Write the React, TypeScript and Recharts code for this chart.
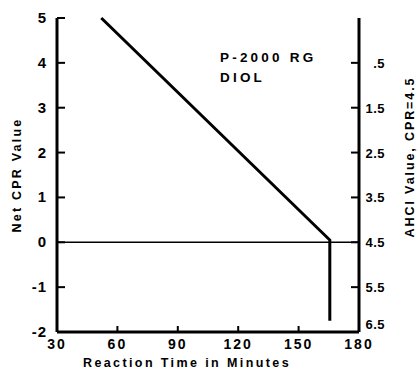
import React from 'react';
import {
  ComposedChart,
  Line,
  XAxis,
  YAxis,
  ReferenceLine,
} from 'recharts';

// reaction time (min) vs net CPR value
const times = [52, 165.5, 165.5];
const netCpr = [5, 0.05, -1.75];
// right-hand scale: AHCl value when CPR = 4.5
const ahclAtZero = 4.5;

const xTicks = [30, 60, 90, 120, 150, 180];
const leftTicks = [-2, -1, 0, 1, 2, 3, 4, 5];
const rightTicks = [0.5, 1.5, 2.5, 3.5, 4.5, 5.5, 6.5];
const rightTickLabels = ['.5', '1.5', '2.5', '3.5', '4.5', '5.5', '6.5'];

const data = times.map((t, i) => ({
  time: t,
  cpr: netCpr[i],
  ahcl: ahclAtZero - netCpr[i],
}));

const FONT = '"Liberation Sans", Arial, sans-serif';

const LeftTick = (props: any) => {
  const { x, y, payload } = props;
  const v = payload.value;
  const inner = v !== -2;
  return (
    <g>
      {inner && <rect x={x} y={y - 1} width={8} height={2} fill="#000" />}
      <text
        x={x - 10}
        y={y + 5}
        textAnchor="end"
        fontFamily={FONT}
        fontWeight="bold"
        fontSize={15}
        letterSpacing={1}
        fill="#000"
      >
        {v}
      </text>
    </g>
  );
};

const RightTick = (props: any) => {
  const { x, y, payload } = props;
  const i = rightTicks.indexOf(payload.value);
  const last = payload.value === 6.5;
  return (
    <g>
      {!last && <rect x={x - 8} y={y - 1} width={8} height={2} fill="#000" />}
      <text
        x={x + 26}
        y={last ? y - 3 : y + 5}
        textAnchor="end"
        fontFamily={FONT}
        fontWeight="bold"
        fontSize={13}
        letterSpacing={0.5}
        fill="#000"
      >
        {rightTickLabels[i]}
      </text>
    </g>
  );
};

const BottomTick = (props: any) => {
  const { x, y, payload } = props;
  const v = payload.value;
  const inner = v !== 30 && v !== 180;
  return (
    <g>
      {inner && <rect x={x - 1} y={y - 6} width={2} height={6} fill="#000" />}
      <text
        x={x}
        y={y + 17}
        textAnchor="middle"
        fontFamily={FONT}
        fontWeight="bold"
        fontSize={14}
        letterSpacing={2}
        fill="#000"
      >
        {v}
      </text>
    </g>
  );
};

const App = () => {
  return (
    <div style={{ position: 'absolute', left: 0, top: 0, background: '#fff' }}>
      <ComposedChart
        width={420}
        height={373}
        data={data}
        margin={{ top: 18, right: 0, bottom: 0, left: 0 }}
      >
        <XAxis
          dataKey="time"
          type="number"
          domain={[30, 180]}
          ticks={xTicks}
          height={41}
          tickSize={0}
          tickMargin={0}
          tickLine={false}
          tick={<BottomTick />}
          axisLine={{ stroke: '#000', strokeWidth: 3 }}
          label={{
            content: () => (
              <text
                x={187}
                y={367}
                textAnchor="middle"
                fontFamily={FONT}
                fontWeight="bold"
                fontSize={12.5}
                letterSpacing={2.4}
                fill="#000"
              >
                Reaction Time in Minutes
              </text>
            ),
          }}
        />
        <YAxis
          yAxisId="l"
          type="number"
          domain={[-2, 5]}
          ticks={leftTicks}
          width={57}
          tickSize={0}
          tickMargin={0}
          tickLine={false}
          tick={<LeftTick />}
          axisLine={{ stroke: '#000', strokeWidth: 3 }}
          label={{
            content: () => (
              <text
                x={21}
                y={175}
                transform="rotate(-90 21 175)"
                textAnchor="middle"
                fontFamily={FONT}
                fontWeight="bold"
                fontSize={12.5}
                letterSpacing={2.2}
                fill="#000"
              >
                Net CPR Value
              </text>
            ),
          }}
        />
        <YAxis
          yAxisId="r"
          orientation="right"
          type="number"
          domain={[-0.5, 6.5]}
          allowDataOverflow
          reversed
          ticks={rightTicks}
          width={61}
          tickSize={0}
          tickMargin={0}
          tickLine={false}
          interval={0}
          tick={<RightTick />}
          axisLine={{ stroke: '#000', strokeWidth: 3 }}
          label={{
            content: () => (
              <text
                x={414}
                y={157}
                transform="rotate(-90 414 157)"
                textAnchor="middle"
                fontFamily={FONT}
                fontWeight="bold"
                fontSize={12.5}
                letterSpacing={1.9}
                fill="#000"
              >
                AHCl Value, CPR=4.5
              </text>
            ),
          }}
        />
        <ReferenceLine yAxisId="l" y={0} stroke="#000" strokeWidth={1.5} />
        <Line
          yAxisId="r"
          type="linear"
          dataKey="ahcl"
          stroke="none"
          dot={false}
          isAnimationActive={false}
        />
        <Line
          yAxisId="l"
          type="linear"
          dataKey="cpr"
          stroke="#000"
          strokeWidth={3}
          dot={false}
          isAnimationActive={false}
        />
      </ComposedChart>
      <div
        style={{
          position: 'absolute',
          left: 220,
          top: 48,
          fontFamily: FONT,
          fontWeight: 'bold',
          fontSize: 13.5,
          letterSpacing: 3.2,
          lineHeight: '20px',
          color: '#000',
        }}
      >
        P-2000 RG
        <br />
        DIOL
      </div>
    </div>
  );
};

export default App;
